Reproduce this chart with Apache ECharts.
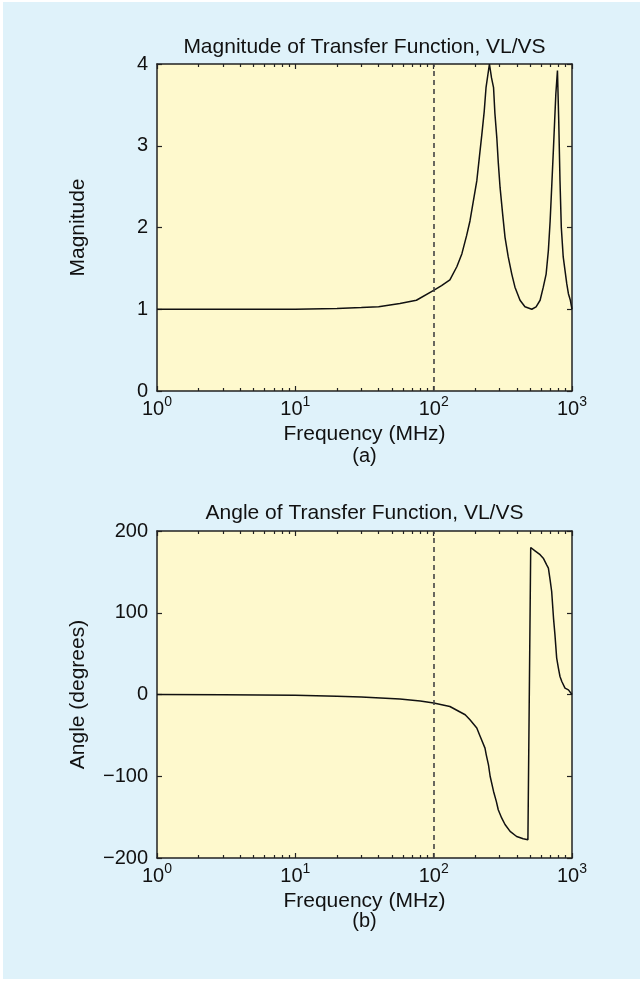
<!DOCTYPE html>
<html><head><meta charset="utf-8">
<script src="https://cdn.jsdelivr.net/npm/echarts@6/dist/echarts.min.js"></script>
<style>html,body{margin:0;padding:0;background:#fff}#c{width:642px;height:982px}</style>
</head><body><div id="c"></div>
<script>
// ---- data ----
const magFreq   = [1, 2, 5, 10, 20, 30, 40, 57, 75, 100, 114, 131, 147, 160, 173, 183, 193, 205, 214, 223, 232, 239, 253, 262, 271, 277, 286, 293, 302, 315, 328, 346, 367, 387, 421, 457, 512, 550, 588, 620, 650, 675, 695, 713, 735, 749, 764, 785, 802, 819, 837, 864, 891, 917, 942, 973, 1000];
const magValues = [1.00, 1.00, 1.00, 1.00, 1.01, 1.02, 1.03, 1.07, 1.11, 1.23, 1.29, 1.36, 1.52, 1.68, 1.90, 2.08, 2.31, 2.57, 2.86, 3.14, 3.42, 3.71, 4.00, 3.83, 3.71, 3.40, 3.10, 2.80, 2.49, 2.17, 1.88, 1.64, 1.43, 1.27, 1.11, 1.03, 1.00, 1.03, 1.11, 1.27, 1.43, 1.72, 2.08, 2.49, 2.98, 3.30, 3.63, 3.92, 3.30, 2.57, 2.00, 1.64, 1.47, 1.31, 1.19, 1.11, 1.00];
const angFreq   = [1, 3, 10, 20, 30, 57, 80, 100, 131, 169, 183, 205, 217, 235, 240, 249, 256, 271, 284, 293, 310, 328, 357, 398, 444, 480, 503, 540, 588, 620, 656, 675, 695, 713, 735, 753, 775, 798, 819, 844, 890, 942, 1000];
const angValues = [0, -0.3, -1, -2, -3, -5.5, -8, -10.5, -14.7, -24.8, -31, -41, -51.4, -65.6, -73.8, -86, -100, -118.6, -131, -141, -151, -159, -167.5, -173.7, -176.5, -177.7, 179.8, 175.8, 171, 166.8, 158.6, 154.6, 140, 126, 93.5, 73, 44.5, 32, 22, 15.9, 7.8, 5.7, 0];
const decadeTicks = [1, 10, 100, 1000];
const minorTicks  = [2,3,4,5,6,7,8,9,20,30,40,50,60,70,80,90,200,300,400,500,600,700,800,900];
const magTicks = [0, 1, 2, 3, 4];
const angTicks = [-200, -100, 0, 100, 200];
const markerFreq = 100;
const titles = ['Magnitude of Transfer Function, VL/VS', 'Angle of Transfer Function, VL/VS'];
const yNames = ['Magnitude', 'Angle (degrees)'];
const xName = 'Frequency (MHz)';
const captions = ['(a)', '(b)'];

// ---- styling ----
const FONT = "'Liberation Sans', Arial, Helvetica, sans-serif";
const TXT = '#111';
const LINE = '#222';
const BG = '#dff2fa';
const PLOTBG = '#fef9cd';
const grids = [
  {left: 157, top: 64, width: 415, height: 327},
  {left: 157, top: 531, width: 415, height: 327}
];

function xAxes(gi) {
  const base = {type: 'log', logBase: 10, min: 1, max: 1000, gridIndex: gi, splitLine: {show: false}};
  const mk = (pos, ticks, len, main) => Object.assign({}, base, {
    position: pos,
    axisLine: {show: main, onZero: false, lineStyle: {color: LINE, width: 1.5}},
    axisTick: {show: true, inside: true, length: len, customValues: ticks, lineStyle: {color: LINE, width: 1.2}},
    axisLabel: (main && pos === 'bottom') ? {
      show: true, margin: 8, customValues: decadeTicks,
      formatter: v => '{b|10}{s|' + Math.round(Math.log10(v)) + '}',
      rich: {b: {fontSize: 20, lineHeight: 20, fontFamily: FONT, color: TXT},
             s: {fontSize: 14, lineHeight: 14, fontFamily: FONT, color: TXT, padding: [0, 0, 14, 0]}}
    } : {show: false},
    name: (main && pos === 'bottom') ? xName : '',
    nameLocation: 'middle', nameGap: 30,
    nameTextStyle: {fontSize: 21, fontFamily: FONT, color: TXT}
  });
  return [mk('bottom', decadeTicks, 5, true), mk('bottom', minorTicks, 3, false), mk('top', decadeTicks, 5, true), mk('top', minorTicks, 3, false)];
}

function yAxes(gi, ticks, name, fmt) {
  const base = {type: 'value', gridIndex: gi, min: ticks[0], max: ticks[ticks.length - 1], interval: ticks[1] - ticks[0], splitLine: {show: false}};
  return [
    Object.assign({}, base, {
      position: 'left',
      axisLine: {show: true, onZero: false, lineStyle: {color: LINE, width: 1.5}},
      axisTick: {show: true, inside: true, length: 5, lineStyle: {color: LINE, width: 1.2}},
      axisLabel: {show: true, margin: 9, fontSize: 20, fontFamily: FONT, color: TXT, formatter: fmt},
      name: name, nameLocation: 'middle', nameGap: 68,
      nameTextStyle: {fontSize: 21, fontFamily: FONT, color: TXT}
    }),
    Object.assign({}, base, {
      position: 'right',
      axisLine: {show: true, onZero: false, lineStyle: {color: LINE, width: 1.5}},
      axisTick: {show: true, inside: true, length: 5, lineStyle: {color: LINE, width: 1.2}},
      axisLabel: {show: false}
    })
  ];
}

const markLine = {
  silent: true, symbol: 'none', label: {show: false},
  lineStyle: {color: '#444', width: 1.6, type: [5, 4]},
  data: [{xAxis: markerFreq}]
};

const chart = echarts.init(document.getElementById('c'), null, {renderer: 'canvas'});
chart.setOption({
  animation: false,
  backgroundColor: '#ffffff',
  graphic: [
    {type: 'rect', z: -10, shape: {x: 3, y: 2, width: 637, height: 977}, style: {fill: BG}},
    {type: 'text', x: 364.5, y: 47, style: {text: titles[0], align: 'center', verticalAlign: 'middle', font: '21px ' + FONT, fill: TXT}},
    {type: 'text', x: 364.5, y: 513, style: {text: titles[1], align: 'center', verticalAlign: 'middle', font: '21px ' + FONT, fill: TXT}},
    {type: 'text', x: 364.5, y: 456, style: {text: captions[0], align: 'center', verticalAlign: 'middle', font: '20px ' + FONT, fill: TXT}},
    {type: 'text', x: 364.5, y: 921, style: {text: captions[1], align: 'center', verticalAlign: 'middle', font: '20px ' + FONT, fill: TXT}}
  ],
  grid: grids.map(g => Object.assign({show: true, backgroundColor: PLOTBG, borderWidth: 0}, g)),
  xAxis: xAxes(0).concat(xAxes(1)),
  yAxis: yAxes(0, magTicks, yNames[0], v => String(v))
    .concat(yAxes(1, angTicks, yNames[1], v => v < 0 ? '\u2212' + Math.abs(v) : String(v))),
  series: [
    {type: 'line', xAxisIndex: 0, yAxisIndex: 0, showSymbol: false, smooth: false,
     lineStyle: {color: '#111', width: 1.5}, data: magFreq.map((f, i) => [f, magValues[i]]), markLine: markLine},
    {type: 'line', xAxisIndex: 4, yAxisIndex: 2, showSymbol: false, smooth: false,
     lineStyle: {color: '#111', width: 1.5}, data: angFreq.map((f, i) => [f, angValues[i]]), markLine: markLine}
  ]
});
</script></body></html>
